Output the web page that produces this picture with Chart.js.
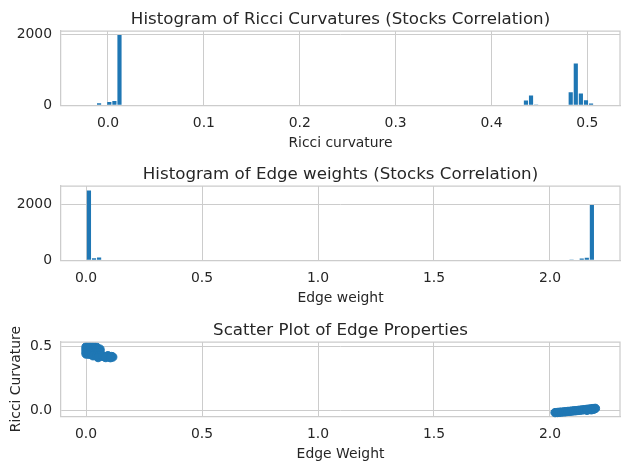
<!DOCTYPE html>
<html>
<head>
<meta charset="utf-8">
<script src="https://cdn.jsdelivr.net/npm/chart.js@4.4.1/dist/chart.umd.min.js"></script>
<style>
  html, body { margin: 0; padding: 0; background: #fff; }
  #wrap { position: relative; width: 630px; height: 469px; }
  canvas { position: absolute; left: 0; }
</style>
</head>
<body>
<div id="wrap">
  <canvas id="chart-ricci" width="630" height="155" style="top:0px"></canvas>
  <canvas id="chart-weight" width="630" height="155" style="top:155px"></canvas>
  <canvas id="chart-scatter" width="630" height="155" style="top:311px"></canvas>
</div>
<script>
// ----- Data -----
const ricciBins   = [-0.0093, 0.0014, 0.0067, 0.0120, 0.4359, 0.4412, 0.4465, 0.4826, 0.4879, 0.4932, 0.4985, 0.5038];
const ricciCounts = [55, 90, 120, 1975, 135, 275, 25, 365, 1175, 330, 140, 50];

const weightBins   = [0.0125, 0.0344, 0.0563, 2.0932, 2.1370, 2.1589, 2.1808];
const weightCounts = [2480, 70, 100, 30, 65, 95, 1965];

// scatter: [edge weight, ricci curvature]
const scatterLow = [
  [0.000, 0.496], [0.012, 0.496], [0.024, 0.496], [0.036, 0.495], [0.045, 0.494],
  [0.000, 0.482], [0.012, 0.483], [0.024, 0.482], [0.036, 0.481], [0.048, 0.480], [0.060, 0.478],
  [0.000, 0.468], [0.012, 0.468], [0.024, 0.467], [0.036, 0.468], [0.048, 0.466], [0.060, 0.465],
  [0.000, 0.452], [0.012, 0.453], [0.024, 0.452], [0.036, 0.451], [0.048, 0.452], [0.060, 0.450],
  [0.000, 0.440], [0.012, 0.438], [0.024, 0.438], [0.036, 0.437], [0.048, 0.438], [0.060, 0.436],
  [0.030, 0.426], [0.045, 0.425], [0.055, 0.424], [0.052, 0.412],
  [0.070, 0.422], [0.080, 0.418], [0.090, 0.422], [0.095, 0.426], [0.100, 0.418],
  [0.110, 0.420], [0.115, 0.416], [0.085, 0.412], [0.105, 0.411],
];
const scatterHigh = [
  [2.022, -0.020], [2.032, -0.019], [2.041, -0.017], [2.050, -0.016], [2.060, -0.014],
  [2.068, -0.013], [2.077, -0.011], [2.086, -0.010], [2.094, -0.008], [2.103, -0.006],
  [2.112, -0.005], [2.121, -0.003], [2.130, -0.001], [2.139, 0.001], [2.148, 0.003],
  [2.157, 0.005], [2.166, 0.007], [2.175, 0.009], [2.183, 0.011], [2.190, 0.012],
  [2.196, 0.013], [2.188, 0.006], [2.178, 0.002], [2.160, -0.002],
];

const ricciTicks  = [0.0, 0.1, 0.2, 0.3, 0.4, 0.5];
const weightTicks = [0.0, 0.5, 1.0, 1.5, 2.0];
const countTicks  = [0, 2000];
const curvTicks   = [0.0, 0.5];

// ----- Style -----
const BLUE = "#1f77b4";
const GRID = "#cccccc";
const INK  = "#262626";
const FONT = "DejaVu Sans";
const SMALL = 13.9;
const BIG = 16.67;

function xAxis(min, max, ticks, label) {
  return {
    type: "linear", min, max, offset: false,
    grid: { color: GRID, lineWidth: 1, drawTicks: false, offset: false },
    border: { color: GRID, width: 1.25 },
    afterBuildTicks: (s) => { s.ticks = ticks.map((v) => ({ value: v })); },
    afterFit: (s) => { s.height = 49.7; },
    ticks: {
      color: INK, font: { family: FONT, size: SMALL }, padding: 9.8,
      maxRotation: 0, autoSkip: false, callback: (v) => Number(v).toFixed(1),
    },
    title: { display: true, text: label, color: INK, font: { family: FONT, size: SMALL }, padding: { top: 0, bottom: 3 } },
  };
}

function yAxis(min, max, ticks, fmt, label) {
  return {
    type: "linear", min, max,
    grid: { color: GRID, lineWidth: 1, drawTicks: false },
    border: { color: GRID, width: 1.25 },
    afterBuildTicks: (s) => { s.ticks = ticks.map((v) => ({ value: v })); },
    afterFit: (s) => { s.width = 61; },
    ticks: { color: INK, font: { family: FONT, size: SMALL }, padding: 9, callback: fmt },
    title: label
      ? { display: true, text: label, color: INK, font: { family: FONT, size: SMALL }, padding: { top: 7.8, bottom: 0 } }
      : { display: false },
  };
}

// top + right spines
const frame = {
  id: "frame",
  afterDatasetsDraw(chart) {
    const { ctx, chartArea: a } = chart;
    ctx.save();
    ctx.strokeStyle = GRID;
    ctx.lineWidth = 1.25;
    ctx.beginPath();
    ctx.moveTo(a.left, a.top);
    ctx.lineTo(a.right, a.top);
    ctx.lineTo(a.right, a.bottom);
    ctx.stroke();
    ctx.restore();
  },
};

function baseOptions(title, scales) {
  return {
    responsive: false,
    animation: false,
    devicePixelRatio: 1,
    events: [],
    layout: { padding: { top: 0, left: 0, right: 10, bottom: 0 } },
    plugins: {
      legend: { display: false },
      tooltip: { enabled: false },
      title: {
        display: true, text: title, color: INK, fullSize: false,
        font: { family: FONT, size: BIG, weight: "normal" },
        padding: { top: 9.2, bottom: 1.8 },
      },
    },
    scales,
  };
}

const intFmt = (v) => String(Math.round(v));
const oneDp  = (v) => Number(v).toFixed(1);

// ----- Histogram of Ricci curvatures -----
new Chart(document.getElementById("chart-ricci"), {
  type: "bar",
  data: {
    datasets: [{
      data: ricciBins.map((x, i) => ({ x, y: ricciCounts[i] })),
      backgroundColor: BLUE, borderWidth: 0,
      barPercentage: 0.82, categoryPercentage: 1,
    }],
  },
  options: baseOptions("Histogram of Ricci Curvatures (Stocks Correlation)", {
    x: xAxis(-0.049, 0.534, ricciTicks, "Ricci curvature"),
    y: yAxis(0, 2085, countTicks, intFmt),
  }),
  plugins: [frame],
});

// ----- Histogram of edge weights -----
new Chart(document.getElementById("chart-weight"), {
  type: "bar",
  data: {
    datasets: [{
      data: weightBins.map((x, i) => ({ x, y: weightCounts[i] })),
      backgroundColor: BLUE, borderWidth: 0,
      barPercentage: 0.82, categoryPercentage: 1,
    }],
  },
  options: baseOptions("Histogram of Edge weights (Stocks Correlation)", {
    x: xAxis(-0.108, 2.302, weightTicks, "Edge weight"),
    y: yAxis(0, 2640, countTicks, intFmt),
  }),
  plugins: [frame],
});

// ----- Scatter of edge properties -----
new Chart(document.getElementById("chart-scatter"), {
  type: "scatter",
  data: {
    datasets: [{
      data: scatterLow.concat(scatterHigh).map(([x, y]) => ({ x, y })),
      backgroundColor: BLUE, borderColor: BLUE, borderWidth: 1,
      pointRadius: 4.2, clip: false,
    }],
  },
  options: baseOptions("Scatter Plot of Edge Properties", {
    x: xAxis(-0.108, 2.302, weightTicks, "Edge Weight"),
    y: yAxis(-0.049, 0.534, curvTicks, oneDp, "Ricci Curvature"),
  }),
  plugins: [frame],
});
</script>
</body>
</html>
